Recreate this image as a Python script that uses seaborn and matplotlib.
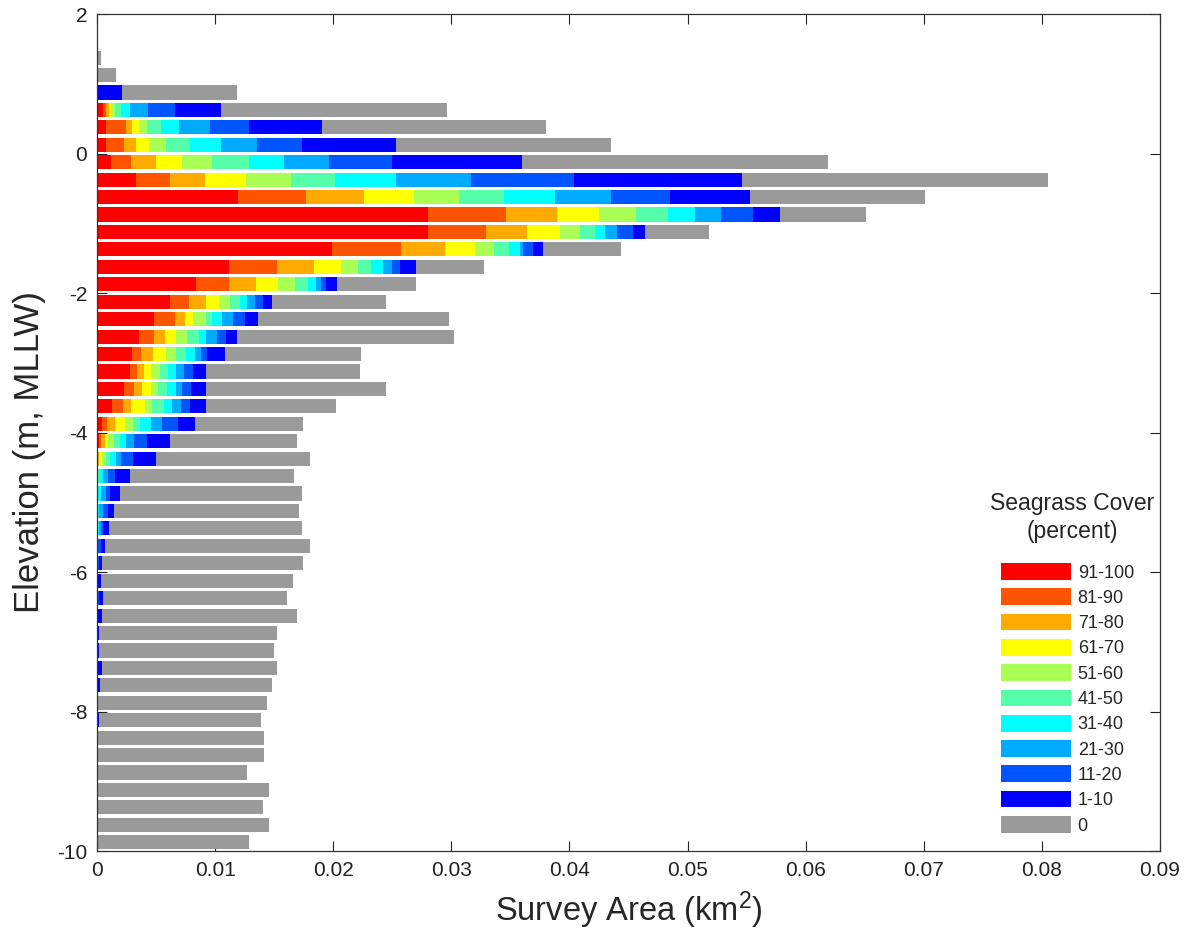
import numpy as np
import pandas as pd
import matplotlib
matplotlib.use("Agg")
import matplotlib.pyplot as plt
from matplotlib.patches import Patch
import seaborn as sns

# ---------------- data (survey area in 0.001 km^2 per 0.25 m elevation bin) -------------
elevation = [1.375, 1.125, 0.875, 0.625, 0.375, 0.125, -0.125, -0.375, -0.625, -0.875,
             -1.125, -1.375, -1.625, -1.875, -2.125, -2.375, -2.625, -2.875, -3.125, -3.375,
             -3.625, -3.875, -4.125, -4.375, -4.625, -4.875, -5.125, -5.375, -5.625, -5.875,
             -6.125, -6.375, -6.625, -6.875, -7.125, -7.375, -7.625, -7.875, -8.125, -8.375,
             -8.625, -8.875, -9.125, -9.375, -9.625, -9.875]

cover_91_100 = [0, 0, 0, 0.51, 0.79, 0.79, 1.22, 3.28, 11.94, 28.03,
                28.03, 19.87, 11.21, 8.38, 6.21, 4.83, 3.56, 2.99, 2.83, 2.26,
                1.27, 0.45, 0.17, 0, 0, 0, 0, 0, 0, 0,
                0, 0, 0, 0, 0, 0, 0, 0, 0, 0, 0, 0, 0, 0, 0, 0]
cover_81_90 = [0, 0, 0, 0.28, 1.70, 1.47, 1.69, 2.88, 5.79, 6.57,
               4.87, 5.86, 4.05, 2.83, 1.55, 1.75, 1.24, 0.77, 0.56, 0.88,
               0.93, 0.43, 0.20, 0.05, 0, 0, 0, 0, 0, 0,
               0, 0, 0, 0, 0, 0, 0, 0, 0, 0, 0, 0, 0, 0, 0, 0]
cover_71_80 = [0, 0, 0, 0.20, 0.50, 1.02, 2.06, 3.02, 4.85, 4.35,
               3.50, 3.70, 3.10, 2.27, 1.44, 0.85, 0.99, 0.98, 0.59, 0.70,
               0.65, 0.68, 0.28, 0.12, 0, 0, 0, 0, 0, 0,
               0, 0, 0, 0, 0, 0, 0, 0, 0, 0, 0, 0, 0, 0, 0, 0]
cover_61_70 = [0, 0, 0, 0.17, 0.57, 1.13, 2.26, 3.41, 4.24, 3.55,
               2.80, 2.57, 2.27, 1.85, 1.13, 0.70, 0.87, 1.08, 0.62, 0.71,
               1.19, 0.79, 0.28, 0.28, 0, 0, 0, 0, 0, 0,
               0, 0, 0, 0, 0, 0, 0, 0, 0, 0, 0, 0, 0, 0, 0, 0]
cover_51_60 = [0, 0, 0, 0.34, 0.68, 1.41, 2.54, 3.81, 3.83, 3.17,
               1.70, 1.60, 1.44, 1.44, 0.96, 1.07, 0.96, 0.84, 0.71, 0.62,
               0.65, 0.70, 0.48, 0.29, 0.05, 0, 0, 0, 0, 0,
               0, 0, 0, 0, 0, 0, 0, 0, 0, 0, 0, 0, 0, 0, 0, 0]
cover_41_50 = [0, 0, 0, 0.50, 1.21, 2.03, 3.10, 3.73, 3.85, 2.68,
               1.30, 1.30, 1.13, 1.06, 0.79, 0.54, 0.99, 0.85, 0.70, 0.76,
               0.96, 0.62, 0.51, 0.39, 0.10, 0.05, 0, 0.10, 0, 0,
               0, 0, 0, 0, 0, 0, 0, 0, 0, 0, 0, 0, 0, 0, 0, 0]
cover_31_40 = [0, 0, 0, 0.83, 1.50, 2.62, 2.94, 5.16, 4.30, 2.25,
               0.80, 0.90, 1.00, 0.71, 0.65, 0.88, 0.65, 0.76, 0.65, 0.73,
               0.73, 0.93, 0.57, 0.45, 0.36, 0.32, 0.20, 0.05, 0, 0,
               0, 0, 0, 0, 0, 0, 0, 0, 0, 0, 0, 0, 0, 0, 0, 0]
cover_21_30 = [0, 0, 0, 1.49, 2.65, 3.08, 3.81, 6.41, 4.76, 2.27,
               1.06, 0.30, 0.77, 0.42, 0.68, 0.90, 0.90, 0.57, 0.71, 0.57,
               0.71, 0.94, 0.65, 0.48, 0.42, 0.42, 0.35, 0.15, 0, 0,
               0, 0, 0, 0, 0, 0, 0, 0, 0, 0, 0, 0, 0, 0, 0, 0]
cover_11_20 = [0, 0, 0, 2.32, 3.27, 3.84, 5.39, 8.70, 4.94, 2.68,
               1.34, 0.80, 0.68, 0.46, 0.65, 1.01, 0.79, 0.48, 0.76, 0.76,
               0.82, 1.32, 1.13, 0.99, 0.57, 0.34, 0.40, 0.20, 0.35, 0.15,
               0, 0.20, 0, 0, 0, 0, 0, 0, 0, 0, 0, 0, 0, 0, 0, 0]
cover_1_10 = [0, 0, 2.12, 3.89, 6.18, 7.96, 10.99, 14.25, 6.77, 2.25,
              1.00, 0.85, 1.40, 0.87, 0.79, 1.11, 0.94, 1.49, 1.07, 1.21,
              1.35, 1.41, 1.94, 1.98, 1.27, 0.79, 0.49, 0.52, 0.36, 0.28,
              0.31, 0.31, 0.43, 0.17, 0.17, 0.43, 0.29, 0, 0.13, 0,
              0, 0, 0, 0, 0, 0]
cover_0 = [0.30, 1.58, 9.73, 19.14, 19.00, 18.15, 25.90, 25.85, 14.83, 7.35,
           5.40, 6.65, 5.71, 6.76, 9.60, 16.14, 18.31, 11.58, 13.10, 15.25,
           11.01, 9.18, 10.73, 12.98, 13.89, 15.44, 15.67, 16.34, 17.30, 17.02,
           16.29, 15.58, 16.51, 15.07, 14.82, 14.81, 14.53, 14.43, 13.73, 14.12,
           14.12, 12.70, 14.54, 14.06, 14.54, 12.87]

classes = ["91-100", "81-90", "71-80", "61-70", "51-60", "41-50",
           "31-40", "21-30", "11-20", "1-10", "0"]
colors = ["#FF0000", "#FF5500", "#FFAA00", "#FFFF00", "#AAFF55", "#55FFAA",
          "#00FFFF", "#00AAFF", "#0055FF", "#0000FF", "#9A9A9A"]
series = [cover_91_100, cover_81_90, cover_71_80, cover_61_70, cover_51_60, cover_41_50,
          cover_31_40, cover_21_30, cover_11_20, cover_1_10, cover_0]

x_ticks = [0, 0.01, 0.02, 0.03, 0.04, 0.05, 0.06, 0.07, 0.08, 0.09]
x_tick_labels = ["0", "0.01", "0.02", "0.03", "0.04", "0.05", "0.06", "0.07", "0.08", "0.09"]
y_ticks = [-10, -8, -6, -4, -2, 0, 2]
y_tick_labels = ["-10", "-8", "-6", "-4", "-2", "0", "2"]

# ---------------- style ----------------
sns.set_style("ticks")
plt.rcParams["font.family"] = ["Liberation Sans", "DejaVu Sans"]
plt.rcParams["mathtext.fontset"] = "custom"
plt.rcParams["mathtext.rm"] = "Liberation Sans"
plt.rcParams["mathtext.default"] = "regular"
plt.rcParams["axes.unicode_minus"] = False

W, H = 1187, 936
fig = plt.figure(figsize=(W / 100, H / 100), dpi=100)
ax = fig.add_axes([97 / W, (H - 851) / H, (1160 - 97) / W, (851 - 14) / H])

# stacked bars: draw cumulative totals from longest to shortest
cum = np.cumsum(np.array(series, dtype=float), axis=0) * 1e-3
for k in reversed(range(len(classes))):
    df = pd.DataFrame({"elev": elevation, "area": cum[k]})
    sns.barplot(data=df, x="area", y="elev", orient="y", native_scale=True,
                color=colors[k], saturation=1, width=0.81, errorbar=None,
                linewidth=0, ax=ax)

ax.set_xlim(0, 0.09)
ax.set_ylim(-10, 2)
ax.set_xticks(x_ticks)
ax.set_xticklabels(x_tick_labels)
ax.set_yticks(y_ticks)
ax.set_yticklabels(y_tick_labels)
ax.tick_params(direction="in", length=7, width=0.8, top=True, right=True,
               labelsize=15, pad=7, colors="#222222")
for s in ax.spines.values():
    s.set_visible(True)
    s.set_linewidth(0.9)
    s.set_color("#333333")

ax.set_xlabel("Survey Area (km$^{2}$)", fontsize=23.5, labelpad=7)
ax.set_ylabel("Elevation (m, MLLW)", fontsize=25)
ax.yaxis.set_label_coords(-0.048, 0.477)

# legend
handles = [Patch(facecolor=c, edgecolor="none") for c in colors]
fig.text(1072 / W, 1 - 492 / H, "Seagrass Cover\n(percent)", ha="center", va="top",
         fontsize=16.5, multialignment="center", linespacing=1.3)
ax.legend(handles, classes, loc="upper left",
          bbox_to_anchor=(1001 / W, 1 - 563 / H), bbox_transform=fig.transFigure,
          frameon=False, fontsize=13, handlelength=3.9, handleheight=1.05,
          handletextpad=0.35, labelspacing=0.375, borderpad=0, borderaxespad=0)

fig.savefig("out.png", dpi=100)
